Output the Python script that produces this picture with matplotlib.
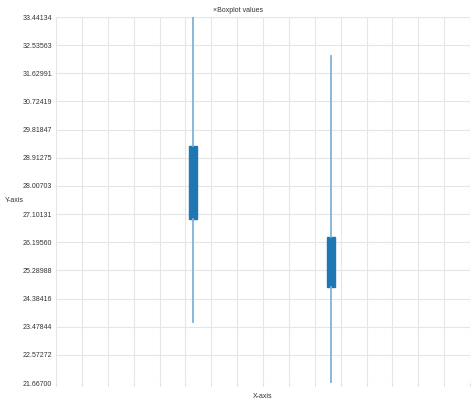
import numpy as np
import matplotlib
matplotlib.use("Agg")
import matplotlib.pyplot as plt

plt.rcParams['font.family'] = ['Liberation Sans', 'DejaVu Sans']

# box data
positions = [5.3, 10.62]
whis_low = [23.64, 21.667]
q1 = [26.95, 24.75]
medians = [28.1, 25.5]
q3 = [29.30, 26.37]
whis_high = [33.44134, 32.19]

y_min = 21.667
y_max = 33.44134
y_labels = ["21.66700", "22.57272", "23.47844", "24.38416", "25.28988",
            "26.19560", "27.10131", "28.00703", "28.91275", "29.81847",
            "30.72419", "31.62991", "32.53563", "33.44134"]

fig = plt.figure(figsize=(4.74, 4.01), dpi=100)
ax = fig.add_axes([56/474, 18/401, 414/474, 366/401])

stats = []
for i in range(len(positions)):
    stats.append({'whislo': whis_low[i], 'q1': q1[i], 'med': medians[i],
                  'q3': q3[i], 'whishi': whis_high[i]})

ax.bxp(stats, positions=positions, widths=0.31, showfliers=False,
       showcaps=False, patch_artist=True,
       boxprops=dict(facecolor='#1f77b4', edgecolor='#1f77b4', linewidth=1),
       medianprops=dict(color='#1f77b4', linewidth=0),
       whiskerprops=dict(color='#7fb2d8', linewidth=1.3))

ax.set_xlim(0, 16)
ax.set_ylim(y_min, y_max)

ax.set_yticks(np.linspace(y_min, y_max, len(y_labels)))
ax.set_yticklabels(y_labels)
ax.set_xticks(np.arange(0, 17, 1))
ax.set_xticklabels([])
ax.tick_params(axis='y', length=0, pad=3, labelsize=5, labelcolor='#333333')
ax.tick_params(axis='x', length=2, color='#dddddd', labelsize=5)

ax.grid(True, color='#e6e6e6', linewidth=0.8)
ax.set_axisbelow(True)
for s in ax.spines.values():
    s.set_visible(False)

fig.text(5/474, 1 - 200/401, "Y-axis", fontsize=5, color='#333333', va='center', ha='left')
fig.text(263/474, 1 - 396/401, "X-axis", fontsize=5, color='#333333', va='center', ha='center')
fig.text(238/474, 1 - 10/401, "\u00d7Boxplot values", fontsize=5, color='#333333', va='center', ha='center')

fig.savefig("out.png", dpi=100)
